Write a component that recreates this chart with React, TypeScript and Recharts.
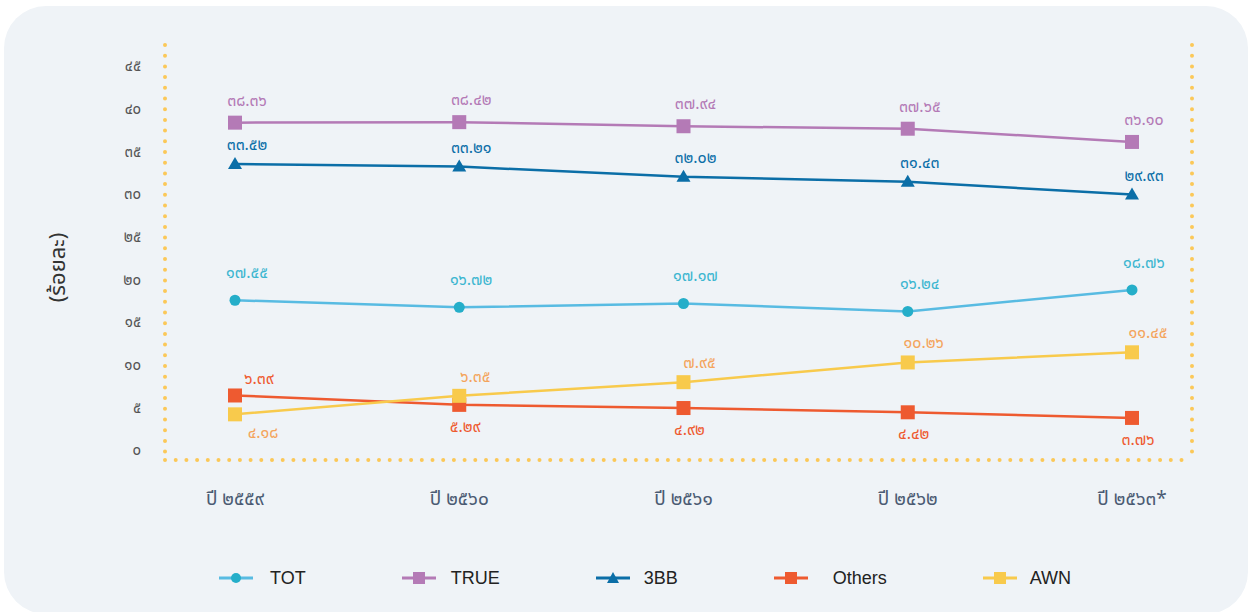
import React from 'react';
import { LineChart, Line, XAxis, YAxis, CartesianGrid, Legend, LabelList } from 'recharts';

const years = ['ปี ๒๕๕๙', 'ปี ๒๕๖๐', 'ปี ๒๕๖๑', 'ปี ๒๕๖๒', 'ปี ๒๕๖๓*'];
const totValues = [17.55, 16.72, 17.17, 16.24, 18.76];
const trueValues = [38.36, 38.42, 37.94, 37.65, 36.1];
const bbValues = [33.52, 33.21, 32.02, 31.43, 29.93];
const othersValues = [6.39, 5.29, 4.92, 4.42, 3.76];
const awnValues = [4.18, 6.35, 7.95, 10.26, 11.45];
const yTicks = [0, 5, 10, 15, 20, 25, 30, 35, 40, 45];
const gridValues = [5, 10, 15, 20, 25, 30, 35, 40, 45];

const data = years.map((y, i) => ({
  year: y,
  TOT: totValues[i],
  TRUE: trueValues[i],
  '3BB': bbValues[i],
  Others: othersValues[i],
  AWN: awnValues[i],
}));

const THAI_FONT = "'Noto Sans Thai', 'Noto Sans Thai Looped', 'Loma', 'Garuda', 'Noto Sans', sans-serif";
const toThai = (s: string) => s.replace(/[0-9]/g, (d) => '๐๑๒๓๔๕๖๗๘๙'[Number(d)]);

const C = {
  totLine: '#58bbe2',
  totDot: '#25aec9',
  totLabel: '#3cb6d0',
  trueC: '#b47ab6',
  bb: '#0b6ea7',
  others: '#ee5a30',
  awnLine: '#f8ca4c',
  awnLabel: '#f4a45c',
  frame: '#fbc858',
};

type Place = (i: number) => { dx: number; dy: number };

const makeLabel = (color: string, place: Place) => (props: any) => {
  const { x, y, value, index } = props;
  const { dx, dy } = place(index);
  return (
    <text
      x={x + dx}
      y={y + dy}
      fill={color}
      fontSize={16}
      fontWeight={400}
      fontFamily={THAI_FONT}
      textAnchor="middle"
      dominantBaseline="central"
    >
      {toThai(Number(value).toFixed(2))}
    </text>
  );
};

const squareDot = (color: string) => (props: any) => {
  const { cx, cy, index } = props;
  return <rect key={index} x={cx - 7} y={cy - 7} width={14} height={14} fill={color} />;
};
const triDot = (color: string) => (props: any) => {
  const { cx, cy, index } = props;
  return <polygon key={index} points={`${cx},${cy - 7} ${cx - 7},${cy + 5} ${cx + 7},${cy + 5}`} fill={color} />;
};
const circleDot = (color: string) => (props: any) => {
  const { cx, cy, index } = props;
  return <circle key={index} cx={cx} cy={cy} r={5.5} fill={color} />;
};

const legendItems = [
  { name: 'TOT', line: C.totLine, mark: C.totDot, shape: 'circle', gap: 17 },
  { name: 'TRUE', line: C.trueC, mark: C.trueC, shape: 'square', gap: 15 },
  { name: '3BB', line: C.bb, mark: C.bb, shape: 'triangle', gap: 14 },
  { name: 'Others', line: C.others, mark: C.others, shape: 'square', gap: 25 },
  { name: 'AWN', line: C.awnLine, mark: C.awnLine, shape: 'square', gap: 13 },
];

const LegendContent = () => (
  <div
    style={{
      display: 'flex',
      justifyContent: 'center',
      alignItems: 'center',
      height: 40,
      paddingLeft: 40,
      gap: 96,
      fontFamily: "'Liberation Sans', Arial, sans-serif",
      fontSize: 18,
      color: '#222',
    }}
  >
    {legendItems.map((it) => (
      <div key={it.name} style={{ display: 'flex', alignItems: 'center' }}>
        <svg width={34} height={16} style={{ marginRight: it.gap }}>
          <line x1={0} y1={8} x2={34} y2={8} stroke={it.line} strokeWidth={3} />
          {it.shape === 'circle' && <circle cx={17} cy={8} r={5} fill={it.mark} />}
          {it.shape === 'square' && <rect x={11} y={2} width={12} height={12} fill={it.mark} />}
          {it.shape === 'triangle' && <polygon points="17,2 11,13 23,13" fill={it.mark} />}
        </svg>
        <span>{it.name}</span>
      </div>
    ))}
  </div>
);

const frameLine = {
  stroke: C.frame,
  strokeWidth: 4,
  strokeDasharray: '0 10.7',
  strokeLinecap: 'round' as const,
};

const YLabel = (props: any) => {
  const { viewBox } = props;
  const x = viewBox.x + 18;
  const y = viewBox.y + viewBox.height / 2 + 15;
  return (
    <text
      x={x}
      y={y}
      transform={`rotate(-90, ${x}, ${y})`}
      textAnchor="middle"
      dominantBaseline="central"
      fontSize={22}
      fill="#333"
      fontFamily={THAI_FONT}
    >
      (ร้อยละ)
    </text>
  );
};

export default function App() {
  return (
    <div style={{ position: 'absolute', left: 0, top: 0, width: 1250, height: 612, background: '#ffffff', overflow: 'hidden' }}>
      <div
        style={{
          position: 'absolute',
          left: 4,
          top: 6,
          width: 1244,
          height: 608,
          borderRadius: 42,
          background: '#eff3f7',
        }}
      />
      <div style={{ position: 'absolute', left: 0, top: 0 }}>
        <LineChart width={1250} height={612} data={data} margin={{ top: 45, right: 57, bottom: 14, left: 40 }}>
          <CartesianGrid horizontal vertical={false} stroke="#ffffff" strokeWidth={2} horizontalValues={gridValues} />
          <XAxis
            dataKey="year"
            axisLine={frameLine}
            tickLine={false}
            tickSize={0}
            tickMargin={32}
            height={98}
            padding={{ left: 70, right: 60 }}
            tick={{ fill: '#4b5b73', fontSize: 19, fontFamily: THAI_FONT }}
            interval={0}
          />
          <YAxis
            yAxisId="left"
            width={125}
            domain={[-1.17, 47.46]}
            ticks={yTicks}
            allowDataOverflow
            axisLine={frameLine}
            tickLine={false}
            tickSize={0}
            tickMargin={24}
            tickFormatter={(v: number) => toThai(String(v))}
            tick={{ fill: '#555', fontSize: 15, fontFamily: THAI_FONT }}
            label={<YLabel />}
          />
          <YAxis
            yAxisId="right"
            orientation="right"
            width={1}
            domain={[-1.17, 47.46]}
            axisLine={frameLine}
            tickLine={false}
            tick={false}
          />
          <Legend verticalAlign="bottom" wrapperStyle={{ left: 0, width: 1250 }} content={<LegendContent />} />
          <Line
            yAxisId="left"
            dataKey="TRUE"
            stroke={C.trueC}
            strokeWidth={2.5}
            dot={squareDot(C.trueC)}
            activeDot={false}
            isAnimationActive={false}
          >
            <LabelList dataKey="TRUE" content={makeLabel(C.trueC, () => ({ dx: 12, dy: -22 }))} />
          </Line>
          <Line
            yAxisId="left"
            dataKey="3BB"
            stroke={C.bb}
            strokeWidth={2.5}
            dot={triDot(C.bb)}
            activeDot={false}
            isAnimationActive={false}
          >
            <LabelList dataKey="3BB" content={makeLabel(C.bb, () => ({ dx: 12, dy: -19 }))} />
          </Line>
          <Line
            yAxisId="left"
            dataKey="TOT"
            stroke={C.totLine}
            strokeWidth={2.5}
            dot={circleDot(C.totDot)}
            activeDot={false}
            isAnimationActive={false}
          >
            <LabelList dataKey="TOT" content={makeLabel(C.totLabel, () => ({ dx: 12, dy: -27 }))} />
          </Line>
          <Line
            yAxisId="left"
            dataKey="Others"
            stroke={C.others}
            strokeWidth={2.5}
            dot={squareDot(C.others)}
            activeDot={false}
            isAnimationActive={false}
          >
            <LabelList
              dataKey="Others"
              content={makeLabel(C.others, (i) => (i === 0 ? { dx: 24, dy: -16 } : { dx: 6, dy: 22 }))}
            />
          </Line>
          <Line
            yAxisId="left"
            dataKey="AWN"
            stroke={C.awnLine}
            strokeWidth={2.5}
            dot={squareDot(C.awnLine)}
            activeDot={false}
            isAnimationActive={false}
          >
            <LabelList
              dataKey="AWN"
              content={makeLabel(C.awnLabel, (i) => (i === 0 ? { dx: 28, dy: 19 } : { dx: 16, dy: -19 }))}
            />
          </Line>
        </LineChart>
      </div>
    </div>
  );
}
